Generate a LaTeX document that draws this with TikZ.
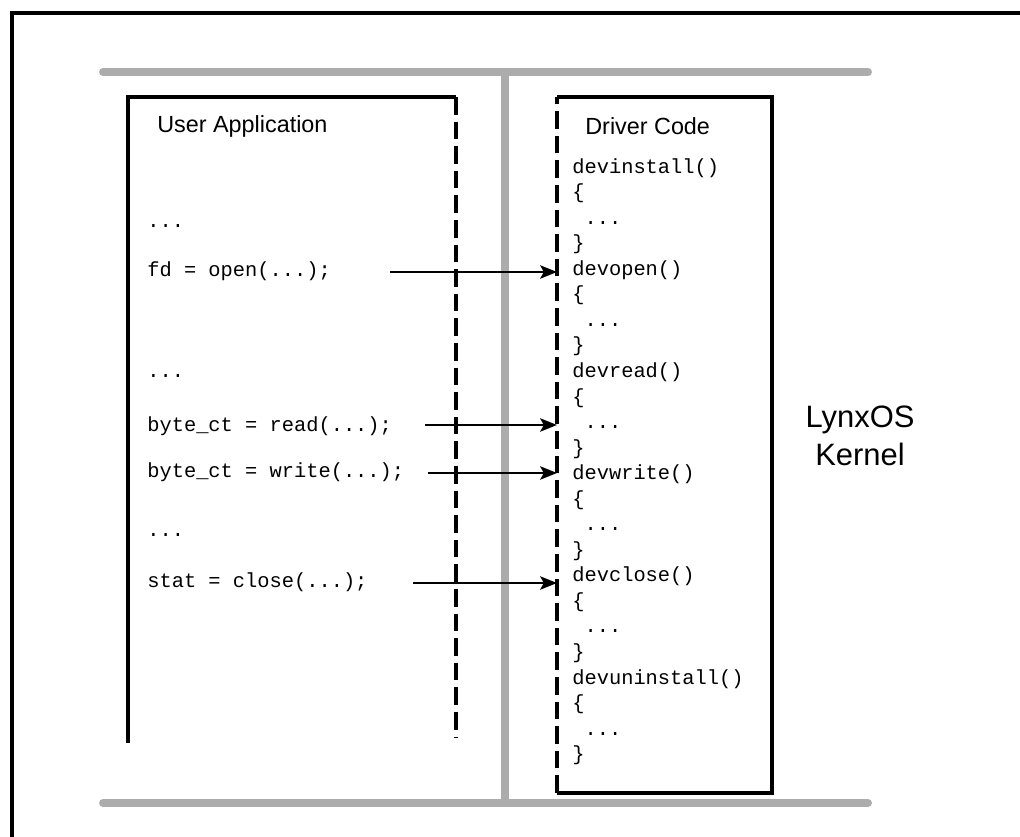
\documentclass[tikz,border=0pt]{standalone}
\usepackage{fontspec}
\setmainfont{Liberation Sans}
\setmonofont{Liberation Mono}
\usetikzlibrary{matrix,positioning,arrows.meta}

\definecolor{railgray}{RGB}{172,172,172}

\begin{document}
\begin{tikzpicture}[x=0.02cm, y=-0.02cm,
    rail/.style={draw=railgray, line width=4.5pt, line cap=round},
    frame/.style={draw=black, line width=1.9pt},
    box-side/.style={draw=black, line width=2pt},
    box-cut/.style={draw=black, line width=2.2pt, dash pattern=on 10pt off 4pt},
    call/.style={draw=black, line width=1.6pt, -{Stealth[length=9.5pt, width=7.5pt, inset=2pt]}},
    label/.style={font=\fontsize{13.3}{16}\selectfont, inner sep=0pt, anchor=west},
    code/.style={font=\ttfamily\fontsize{11.6}{14}\selectfont, inner sep=0pt, text height=9pt, text depth=3.5pt, anchor=west},
    code-col/.style={matrix of nodes, row sep=2.04pt, inner sep=0pt, nodes={code}}
  ]
\useasboundingbox (0,0) rectangle (1020,837);

% Outer frame
\draw[frame] (12,850) -- (12,13) -- (1030,13);

% Kernel rails
\draw[rail] (103,72) -- (868,72);
\draw[rail] (103,803) -- (868,803);
\draw[rail] (505,72) -- (505,803);

% Box corners
\coordinate (ua-nw) at (128,97);
\coordinate (ua-ne) at (456,97);
\coordinate (ua-sw) at (128,743);
\coordinate (ua-se) at (456,737);
\coordinate (dc-nw) at (557,97);
\coordinate (dc-ne) at (772,97);
\coordinate (dc-se) at (772,793);
\coordinate (dc-sw) at (557,793);

% User application box
\draw[box-side] (ua-sw) -- (ua-nw) -- (ua-ne);
\draw[box-cut] (ua-ne) -- (ua-se);

% Driver code box
\draw[box-side] (dc-nw) -- (dc-ne) -- (dc-se) -- (dc-sw);
\draw[box-cut] (dc-sw) -- (dc-nw);

% User application code
\node (ua-title) [label] at (157,126) {User Application};
\node (ua-dots1) [code] at (147,223) {...};
\node (ua-open) [code] at (147,272) {fd = open(...);};
\node (ua-dots2) [code] at (147,373) {...};
\node (ua-read) [code] at (147,427) {byte\_ct = read(...);};
\node (ua-write) [code] at (147,473) {byte\_ct = write(...);};
\node (ua-dots3) [code] at (147,532) {...};
\node (ua-close) [code] at (147,583) {stat = close(...);};

% Driver code entry points
\node (dc-title) [label] at (585,126) {Driver Code};
\matrix (drv) [code-col, anchor=north west] at (572,157) {
devinstall() \\ \{ \\ \ ... \\ \} \\
devopen() \\ \{ \\ \ ... \\ \} \\
devread() \\ \{ \\ \ ... \\ \} \\
devwrite() \\ \{ \\ \ ... \\ \} \\
devclose() \\ \{ \\ \ ... \\ \} \\
devuninstall() \\ \{ \\ \ ... \\ \} \\
};

% Calls into the driver
\coordinate (t-open) at (390,272);
\coordinate (t-read) at (425,425);
\coordinate (t-write) at (428,473);
\coordinate (t-close) at (413,583);
\draw[call] (t-open) -- (t-open -| dc-nw);
\draw[call] (t-read) -- (t-read -| dc-nw);
\draw[call] (t-write) -- (t-write -| dc-nw);
\draw[call] (t-close) -- (t-close -| dc-nw);

\node (kernel) [font=\fontsize{17.6}{21.5}\selectfont, align=center] at (860,436) {LynxOS\\Kernel};

\end{tikzpicture}
\end{document}
